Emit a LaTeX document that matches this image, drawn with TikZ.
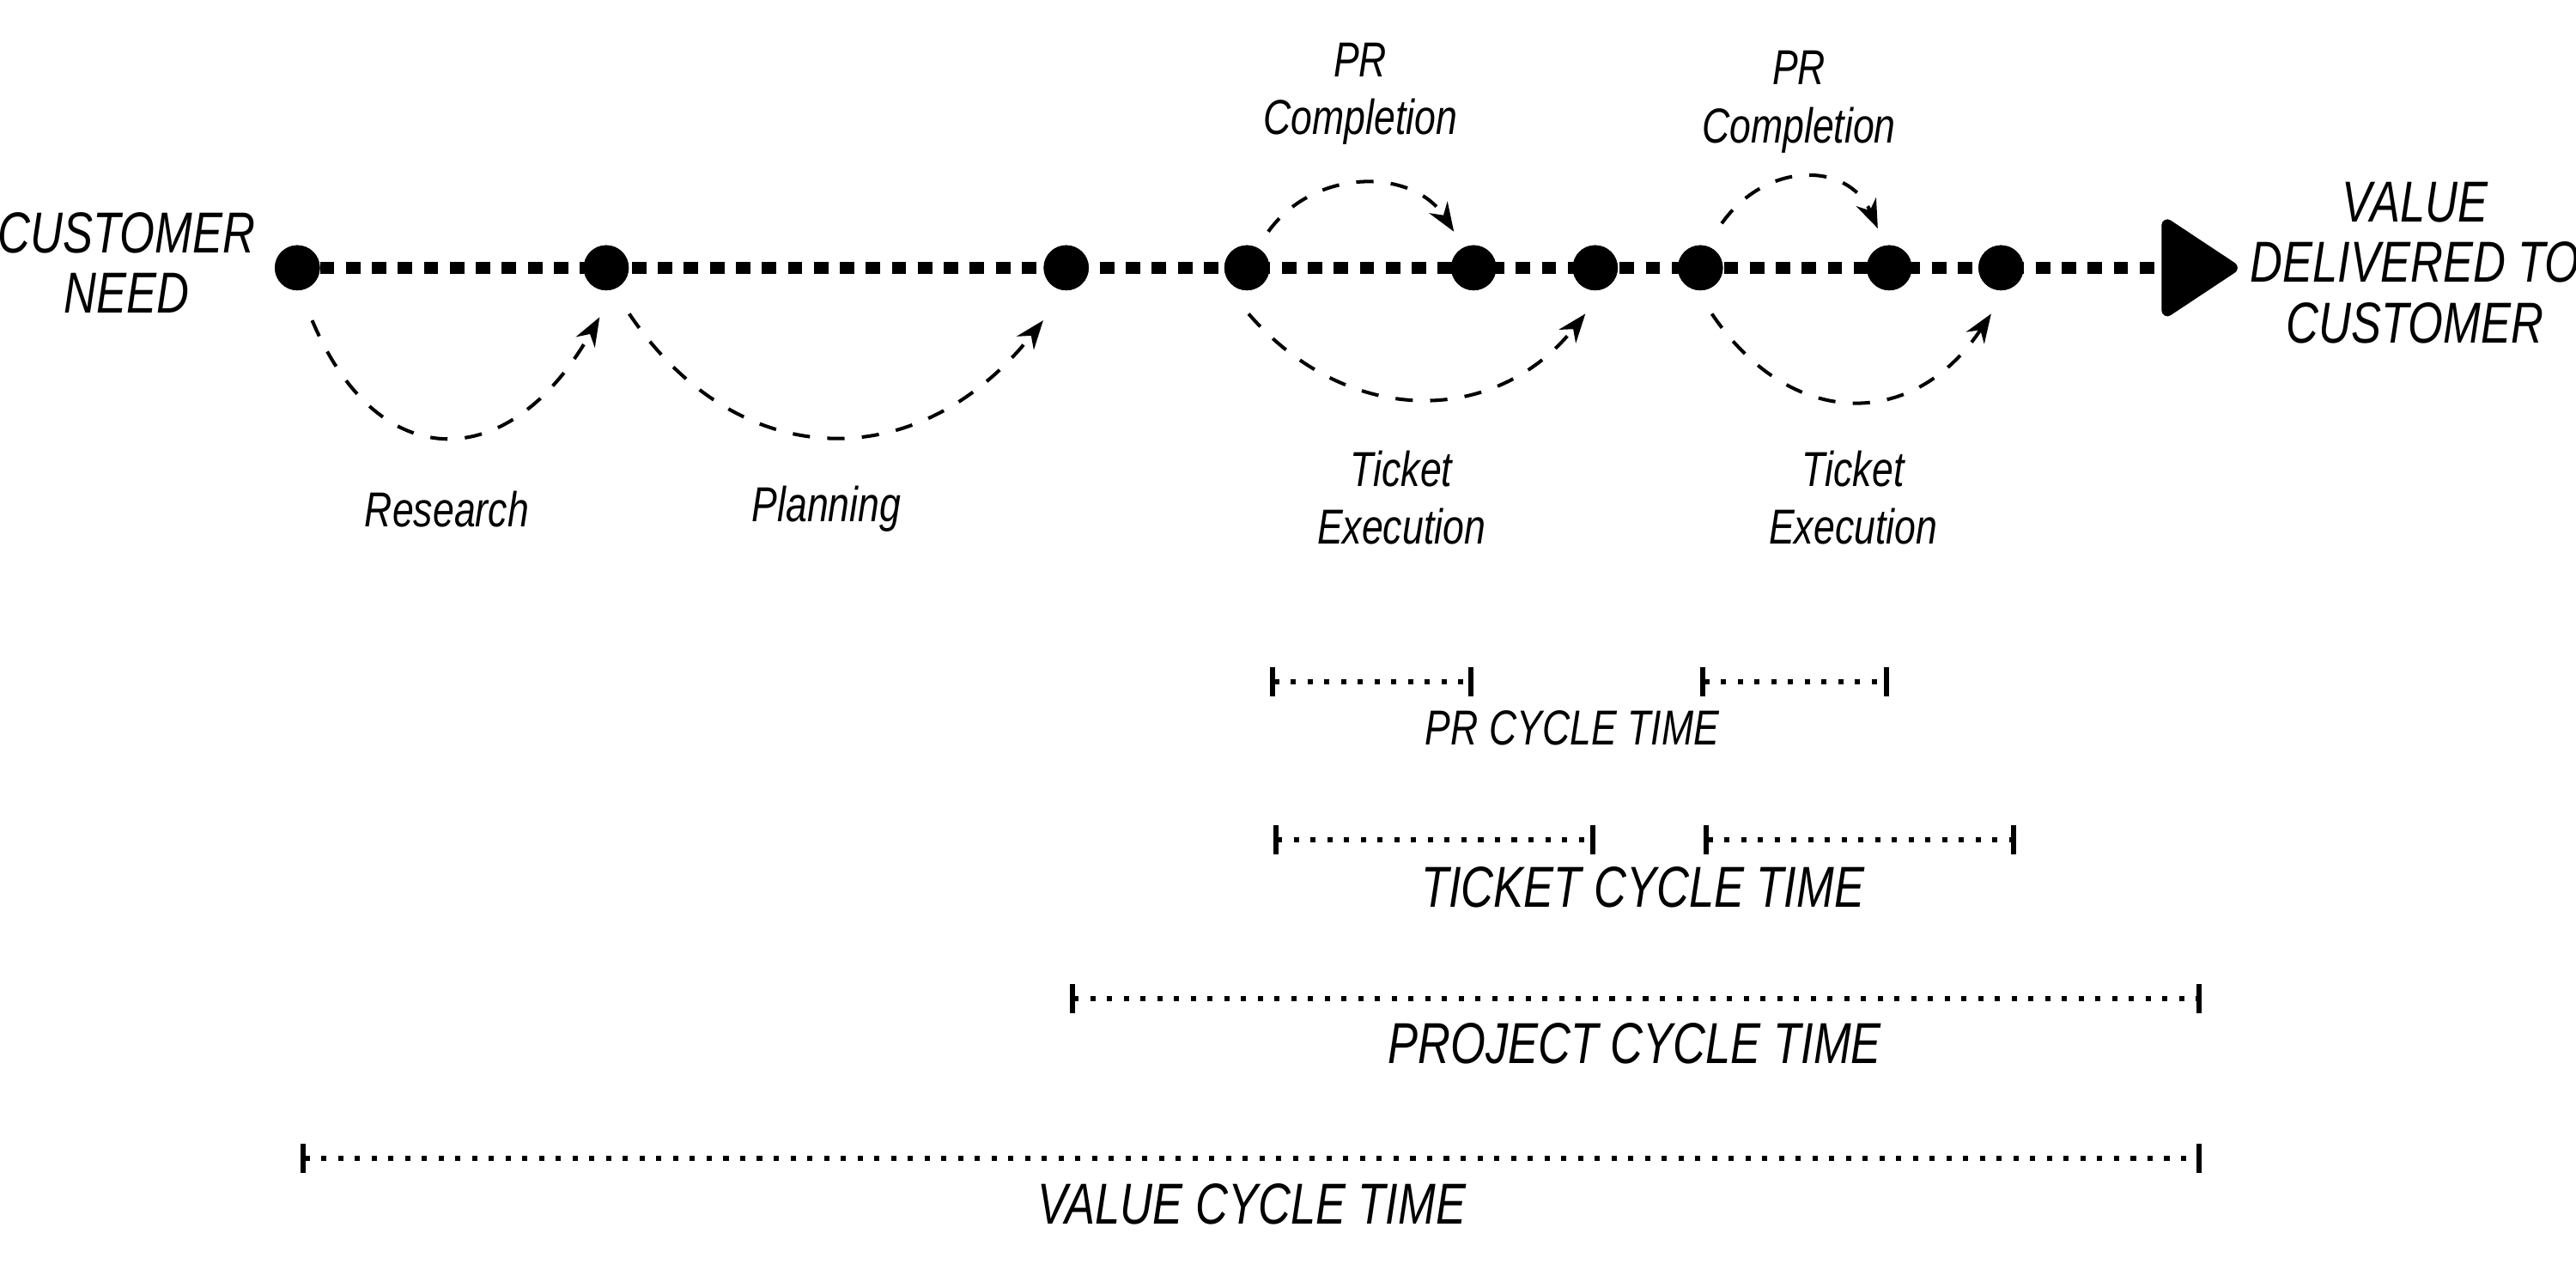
\documentclass[tikz,border=0pt]{standalone}
\usepackage{fontspec}
\setmainfont{Liberation Sans}[FakeStretch=0.78]
\usetikzlibrary{arrows.meta,positioning}
\tikzset{
  stop/.style={circle,fill=black,draw=black,inner sep=0pt,minimum size=0.26cm},
  timeline/.style={line width=2pt,dash pattern=on 2.5pt off 2pt},
  hop/.style={dashed,line width=0.6pt,-{Stealth[length=5pt]}},
  span/.style={dotted,line width=0.9pt,{Bar[width=5pt]}-{Bar[width=5pt]}},
  lbl/.style={font=\fontsize{8.5}{10}\selectfont\itshape,align=center},
  big/.style={font=\fontsize{10}{10.5}\selectfont\itshape,align=center}
}
\begin{document}
\begin{tikzpicture}[x=0.01cm,y=-0.01cm]
\useasboundingbox (0,0) rectangle (1568,784);
% the stops along the way
\foreach \name/\x in {s1/181,s2/369,s3/649,s4/759,s5/897,s6/971,s7/1035,s8/1150,s9/1218}
  \node[stop] (\name) at (\x,163) {};
\coordinate (end) at (1362,163);
\draw[timeline,-{Triangle[length=14pt,width=18pt,round]}] (s1) -- (end);
\foreach \name in {s1,s2,s3,s4,s5,s6,s7,s8,s9}
  \node[stop] at (\name) {};

\node[big] (need) at (77,160) {CUSTOMER\\NEED};
\node[big] (value) at (1470,160) {VALUE\\DELIVERED TO\\CUSTOMER};

% steps
\draw[hop] ([shift={(9,32)}]s1.center) .. controls (230,290) and (310,290) .. ([shift={(-4,30)}]s2.center);
\draw[hop] ([shift={(14,28)}]s2.center) .. controls (450,290) and (560,290) .. ([shift={(-14,32)}]s3.center);
\draw[hop] ([shift={(1,28)}]s4.center) .. controls (820,260) and (910,260) .. ([shift={(-6,28)}]s6.center);
\draw[hop] ([shift={(7,28)}]s7.center) .. controls (1090,262) and (1165,262) .. ([shift={(-6,28)}]s9.center);
\draw[hop] ([shift={(13,-22)}]s4.center) .. controls (800,102) and (860,102) .. ([shift={(-12,-22)}]s5.center);
\draw[hop] ([shift={(13,-27)}]s7.center) .. controls (1075,98) and (1125,98) .. ([shift={(-7,-24)}]s8.center);

\node[lbl] (research) at (272,310) {Research};
\node[lbl] (planning) at (503,310) {Planning};
\node[lbl] (exec1) at (853,303) {Ticket\\Execution};
\node[lbl] (exec2) at (1128,303) {Ticket\\Execution};
\node[lbl] (pr1) at (828,57) {PR\\Completion};
\node[lbl] (pr2) at (1095,62) {PR\\Completion};

% cycle times
\foreach \a/\b/\y in {773/897/415,1035/1150/415,775/971/511,1037/1227/511,651/1340/608,183/1340/705}{
  \coordinate (l) at (\a,\y); \coordinate (r) at (\b,\y);
  \draw[span] (l) -- (r);
}
\node[lbl] (prct) at (957,443) {PR CYCLE TIME};
\node[big] (tct) at (1000,540) {TICKET CYCLE TIME};
\node[big] (pct) at (995,635) {PROJECT CYCLE TIME};
\node[big] (vct) at (762,733) {VALUE CYCLE TIME};
\end{tikzpicture}
\end{document}
